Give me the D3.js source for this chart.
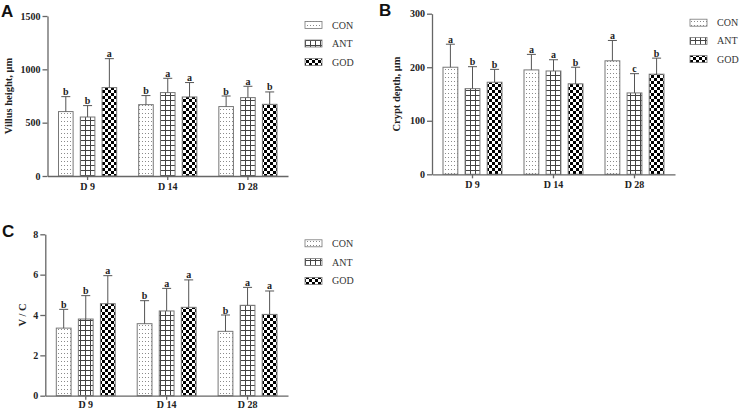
<!DOCTYPE html>
<html><head><meta charset="utf-8">
<script src="https://cdn.jsdelivr.net/npm/d3@7"></script>
<style>
body{margin:0;background:#fff;}
svg{display:block;}
.tk path,.tk line{stroke:#666;stroke-width:1.3;}
</style></head>
<body><svg id="c" width="740" height="410"></svg>
<script>
// ---- data ----
const categories = ["D 9", "D 14", "D 28"];
const groups = ["CON", "ANT", "GOD"];

const villusCON = [604, 669, 651], villusANT = [553, 782, 735], villusGOD = [829, 741, 672];
const villusSdCON = [140, 85, 99], villusSdANT = [107, 134, 106], villusSdGOD = [271, 135, 116];
const villusLetCON = ["b", "b", "b"], villusLetANT = ["b", "a", "a"], villusLetGOD = ["a", "a", "b"];
const villusTicks = [0, 500, 1000, 1500];

const cryptCON = [200, 195, 212], cryptANT = [160, 193, 152], cryptGOD = [172, 169, 187];
const cryptSdCON = [43, 29, 38], cryptSdANT = [41, 21, 36], cryptSdGOD = [24, 31, 30];
const cryptLetCON = ["a", "a", "a"], cryptLetANT = ["b", "a", "c"], cryptLetGOD = ["b", "b", "b"];
const cryptTicks = [0, 100, 200, 300];

const vcCON = [3.35, 3.57, 3.19], vcANT = [3.80, 4.20, 4.48], vcGOD = [4.56, 4.38, 4.03];
const vcSdCON = [0.93, 1.14, 0.81], vcSdANT = [1.16, 1.12, 0.89], vcSdGOD = [1.39, 1.36, 1.16];
const vcLetCON = ["b", "b", "b"], vcLetANT = ["b", "a", "a"], vcLetGOD = ["a", "a", "a"];
const vcTicks = [0, 2, 4, 6, 8];

// ---- drawing ----
const svg = d3.select("#c");
const defs = svg.append("defs");
let p = defs.append("pattern").attr("id","pCON").attr("patternUnits","userSpaceOnUse").attr("width",3).attr("height",4);
p.append("rect").attr("width",3).attr("height",4).attr("fill","#fff");
p.append("rect").attr("x",1).attr("y",1).attr("width",1).attr("height",1).attr("fill","#8a8a8a");
p = defs.append("pattern").attr("id","pANT").attr("patternUnits","userSpaceOnUse").attr("width",5).attr("height",5);
p.append("rect").attr("width",5).attr("height",5).attr("fill","#fff");
p.append("path").attr("d","M0,0.5H5M0.5,0V5").attr("stroke","#444").attr("stroke-width",1);
p = defs.append("pattern").attr("id","pGOD").attr("patternUnits","userSpaceOnUse").attr("width",6).attr("height",6);
p.append("rect").attr("width",6).attr("height",6).attr("fill","#fff");
p.append("rect").attr("width",3).attr("height",3).attr("fill","#000");
p.append("rect").attr("x",3).attr("y",3).attr("width",3).attr("height",3).attr("fill","#000");

const serif = '"Liberation Serif", "Times New Roman", serif';

function styleTicks(sel){
  sel.selectAll("text").style("font-family",serif).style("font-weight","bold").style("font-size","10px").attr("fill","#222");
}

function panel(cfg){
  const {x0,x1,yTop,yBot,max,ticks,series,sds,lets,title,titleX,titleBold,letter,lx,ly,legX,legY,legStep,xPad} = cfg;
  const x = d3.scaleBand().domain(categories).range([x0,x1]).padding(0);
  const bw = x.bandwidth();
  const xi = d3.scaleBand().domain(groups).range([11,bw-11]).paddingInner(0.33);
  const y = d3.scaleLinear().domain([0,max]).range([yBot,yTop]);
  const g = svg.append("g");

  categories.forEach((c,ci)=>{
    groups.forEach((s,si)=>{
      const v = series[si][ci], sd = sds[si][ci];
      const bx = x(c)+xi(s), w = xi.bandwidth(), cx = bx + w/2;
      g.append("rect").attr("x",bx).attr("y",y(v)).attr("width",w).attr("height",y(0)-y(v))
        .attr("fill","url(#p"+s+")").attr("stroke","#777").attr("stroke-width",1);
      g.append("line").attr("x1",cx).attr("x2",cx).attr("y1",y(v)).attr("y2",y(v+sd)).attr("stroke","#555").attr("stroke-width",1);
      g.append("line").attr("x1",cx-4.5).attr("x2",cx+4.5).attr("y1",y(v+sd)).attr("y2",y(v+sd)).attr("stroke","#555").attr("stroke-width",1);
      g.append("text").attr("x",cx).attr("y",y(v+sd)-1.5).attr("text-anchor","middle")
        .style("font-family",serif).style("font-weight","bold").style("font-size","10px").attr("fill","#222").text(lets[si][ci]);
    });
  });

  g.append("g").attr("class","tk").attr("transform",`translate(${x0},0)`)
    .call(d3.axisLeft(y).tickValues(ticks).tickSize(5).tickSizeOuter(0).tickPadding(2).tickFormat(d3.format("d")))
    .call(styleTicks);
  g.append("g").attr("class","tk").attr("transform",`translate(0,${yBot})`)
    .call(d3.axisBottom(x).tickSize(4).tickSizeOuter(0).tickPadding(xPad))
    .call(styleTicks);

  g.append("text").attr("transform",`translate(${titleX},${(yTop+yBot)/2}) rotate(-90)`).attr("text-anchor","middle")
    .style("font-family",serif).style("font-weight",titleBold?"bold":"normal").style("font-size","10.5px").attr("fill","#222").text(title);
  g.append("text").attr("x",lx).attr("y",ly).style("font-family","Arial, 'Liberation Sans', sans-serif")
    .style("font-weight","bold").style("font-size","17px").attr("fill","#111").text(letter);

  groups.forEach((s,si)=>{
    const yy = legY + si*legStep;
    g.append("rect").attr("x",legX).attr("y",yy-3.5).attr("width",17).attr("height",7)
      .attr("fill","url(#p"+s+")").attr("stroke","#777").attr("stroke-width",0.8);
    g.append("text").attr("x",legX+27).attr("y",yy+3.5).style("font-family",serif).style("font-size","10px").attr("fill","#333").text(s);
  });
}

panel({x0:47.5,x1:288,yTop:16,yBot:176,max:1500,ticks:villusTicks,xPad:3,
  series:[villusCON,villusANT,villusGOD],sds:[villusSdCON,villusSdANT,villusSdGOD],lets:[villusLetCON,villusLetANT,villusLetGOD],
  title:"Villus height, μm",titleX:12,titleBold:true,letter:"A",lx:1,ly:17,legX:305,legY:25,legStep:18.5});
panel({x0:432,x1:675,yTop:13.7,yBot:174.3,max:300,ticks:cryptTicks,xPad:3,
  series:[cryptCON,cryptANT,cryptGOD],sds:[cryptSdCON,cryptSdANT,cryptSdGOD],lets:[cryptLetCON,cryptLetANT,cryptLetGOD],
  title:"Crypt depth, μm",titleX:400,titleBold:true,letter:"B",lx:379,ly:16,legX:690,legY:22.7,legStep:18.2});
panel({x0:45.3,x1:288,yTop:234.3,yBot:395.7,max:8,ticks:vcTicks,xPad:1,
  series:[vcCON,vcANT,vcGOD],sds:[vcSdCON,vcSdANT,vcSdGOD],lets:[vcLetCON,vcLetANT,vcLetGOD],
  title:"V / C",titleX:26,titleBold:true,letter:"C",lx:2,ly:237,legX:305,legY:243.3,legStep:18.8});
</script></body></html>
